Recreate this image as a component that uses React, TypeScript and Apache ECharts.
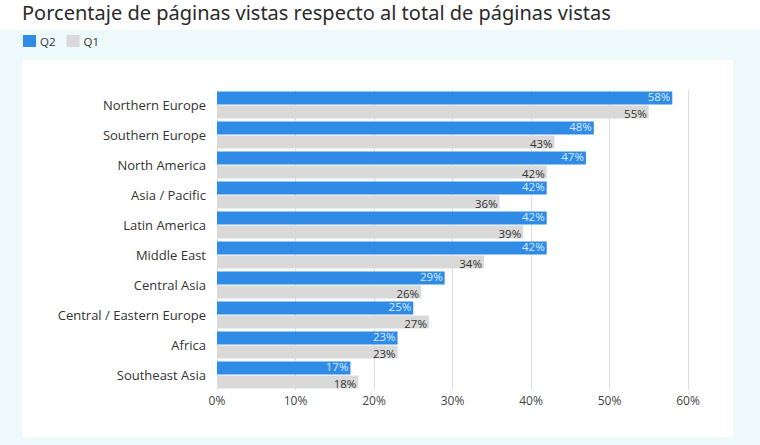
import { useEffect, useRef } from "react";
import * as echarts from "echarts";

const categories = [
  "Northern Europe",
  "Southern Europe",
  "North America",
  "Asia / Pacific",
  "Latin America",
  "Middle East",
  "Central Asia",
  "Central / Eastern Europe",
  "Africa",
  "Southeast Asia",
];
const q2Values = [58, 48, 47, 42, 42, 42, 29, 25, 23, 17];
const q1Values = [55, 43, 42, 36, 39, 34, 26, 27, 23, 18];
const seriesNames = ["Q2", "Q1"];
const titleText = "Porcentaje de páginas vistas respecto al total de páginas vistas";

export default function App() {
  const chartRef = useRef<HTMLDivElement>(null);

  useEffect(() => {
    if (!chartRef.current) return;
    document.body.style.margin = "0";
    const chart = echarts.init(chartRef.current, null, { renderer: "svg" });

    const option: echarts.EChartsOption = {
      animation: false,
      backgroundColor: "#ffffff",
      textStyle: { fontFamily: "'Open Sans', sans-serif" },
      title: {
        text: titleText,
        left: 22,
        top: 1,
        padding: 0,
        textStyle: {
          fontFamily: "'Noto Sans', sans-serif",
          fontSize: 20,
          lineHeight: 22,
          fontWeight: "normal",
          color: "#2a2a2a",
        },
      },
      graphic: [
        {
          type: "rect",
          z: -10,
          silent: true,
          shape: { x: 0, y: 30, width: 760, height: 415 },
          style: { fill: "#eef9fb" },
        },
        {
          type: "rect",
          z: -9,
          silent: true,
          shape: { x: 22, y: 60, width: 711, height: 377 },
          style: { fill: "#ffffff" },
        },
      ],
      legend: {
        data: seriesNames,
        left: 18,
        top: 30,
        icon: "rect",
        itemWidth: 13,
        itemHeight: 12,
        itemGap: 11,
        textStyle: { fontSize: 11.5, color: "#333", padding: [0, 0, 0, -1] },
      },
      grid: {
        left: 217,
        right: 72,
        top: 90,
        bottom: 55,
        containLabel: false,
      },
      xAxis: {
        type: "value",
        min: 0,
        max: 60,
        interval: 10,
        axisLine: { show: false },
        axisTick: { show: false },
        axisLabel: {
          formatter: "{value}%",
          color: "#444",
          fontSize: 12,
          margin: 4,
        },
        splitLine: { lineStyle: { color: "#dddddd", width: 1 } },
      },
      yAxis: {
        type: "category",
        inverse: true,
        data: categories,
        axisLine: { show: false },
        axisTick: { show: false },
        axisLabel: { color: "#333", fontSize: 13, margin: 11 },
      },
      series: [
        {
          name: seriesNames[0],
          type: "bar",
          data: q2Values,
          barWidth: 13,
          barGap: "8%",
          itemStyle: { color: "#2f8be6" },
          label: {
            show: true,
            position: "insideRight",
            distance: 2,
            offset: [0, -1],
            formatter: "{c}%",
            color: "#d8ebfd",
            fontSize: 11.5,
            lineHeight: 12,
          },
        },
        {
          name: seriesNames[1],
          type: "bar",
          data: q1Values,
          barWidth: 13,
          itemStyle: { color: "#d9d9d9" },
          label: {
            show: true,
            position: "insideRight",
            distance: 2,
            offset: [0, 1],
            formatter: "{c}%",
            color: "#333",
            fontSize: 11.5,
            lineHeight: 12,
          },
        },
      ],
    };

    chart.setOption(option);
    return () => {
      chart.dispose();
    };
  }, []);

  return <div ref={chartRef} style={{ width: 760, height: 445 }} />;
}
